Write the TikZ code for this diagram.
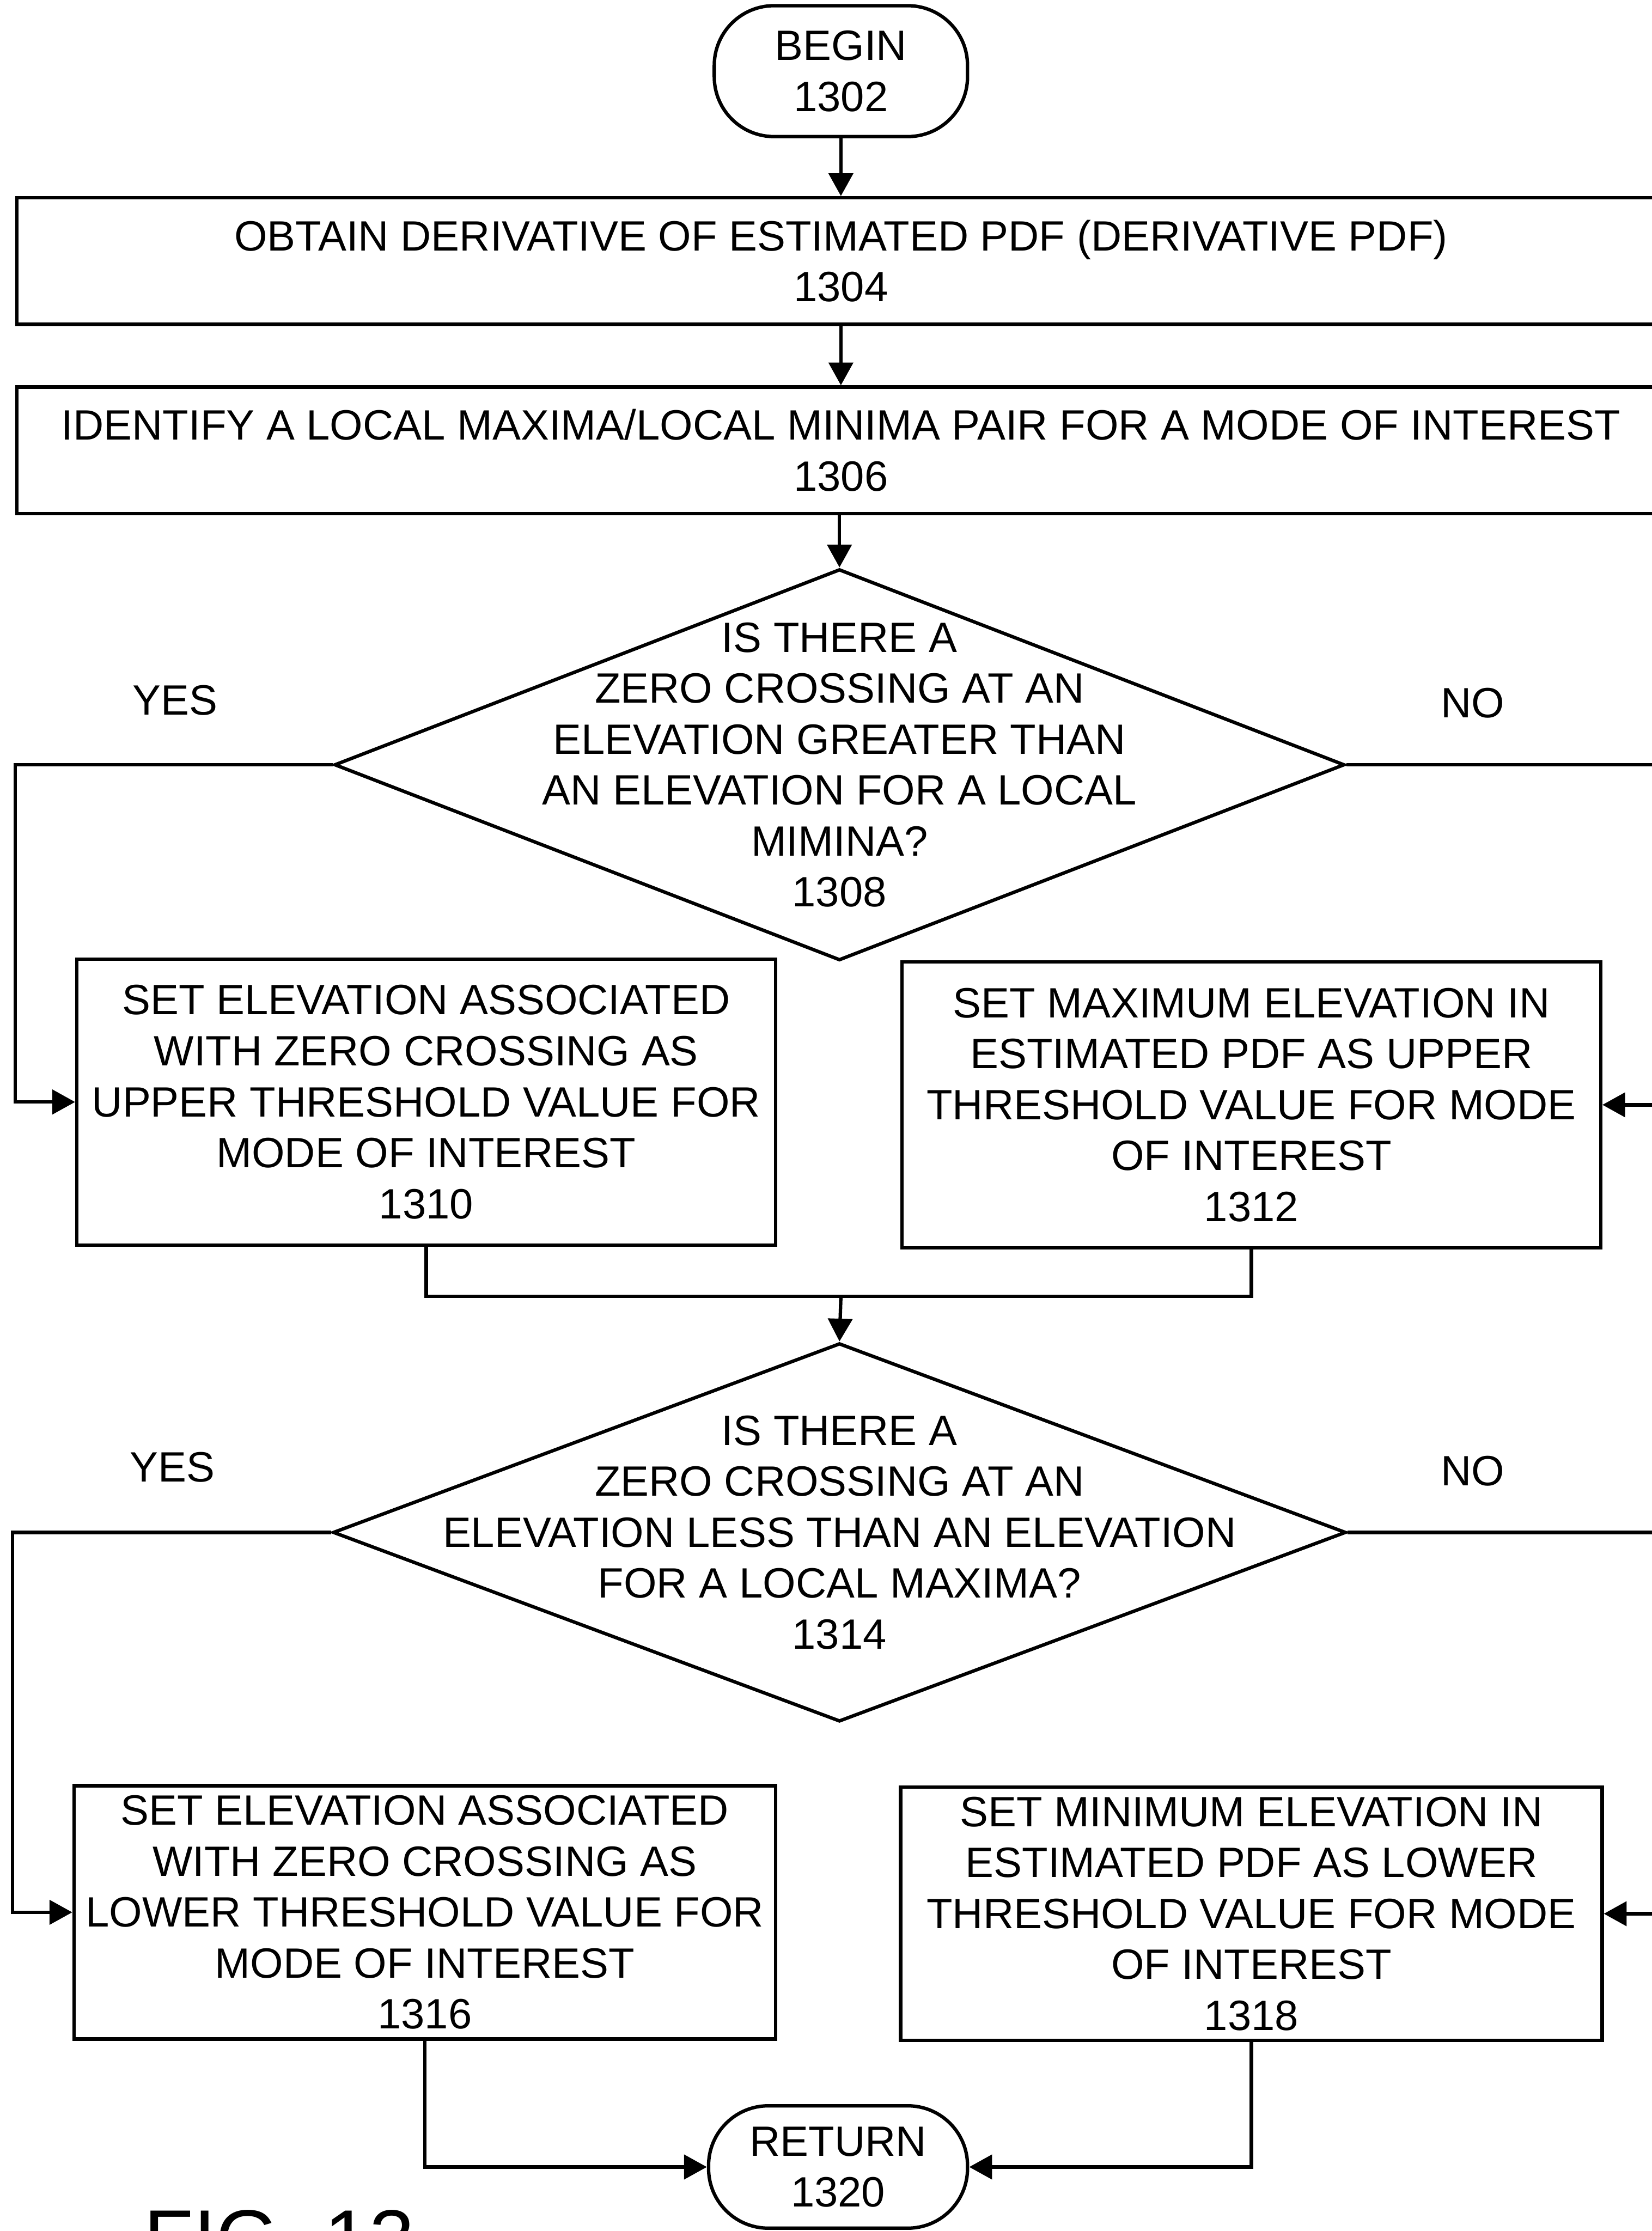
\documentclass[tikz,border=0pt]{standalone}
\usepackage{fontspec}
\setmainfont{Liberation Sans}
\usetikzlibrary{arrows.meta,shapes.geometric}

\begin{document}
\begin{tikzpicture}[x=1pt,y=-1pt,
  every node/.style={font=\fontsize{29.8}{35.8}\selectfont, inner sep=0pt, align=center},
  line/.style={line width=2.4pt},
  flow/.style={line width=2.4pt, -{Triangle[length=16pt,width=17pt]}},
  stepbox/.style={draw, line width=2.4pt, rectangle},
  terminal/.style={draw, line width=2.4pt, rectangle, rounded corners=42pt},
  decision/.style={draw, line width=2.4pt, diamond},
  answer/.style={}
]
\useasboundingbox (0,0) rectangle (1161,1568);
\fill[white] (0,0) rectangle (1161,1568);
\clip (0,0) rectangle (1161,1568);

% terminals
\node[terminal, minimum width=178pt, minimum height=92pt] (begin) at (591,50) {BEGIN\\1302};
\node[terminal, minimum width=182pt, minimum height=86pt] (ret) at (589,1523) {RETURN\\1320};

% full-width steps
\node[stepbox, minimum width=1158pt, minimum height=89pt] (b1304) at (591,183.5)
  {OBTAIN DERIVATIVE OF ESTIMATED PDF (DERIVATIVE PDF)\\1304};
\node[stepbox, minimum width=1158pt, minimum height=89pt] (b1306) at (591,316.5)
  {IDENTIFY A LOCAL MAXIMA/LOCAL MINIMA PAIR FOR A MODE OF INTEREST\\1306};

% first decision
\node[decision, minimum width=710pt, minimum height=275pt] (d1308) at (590,537.5) {};
\node (t1308) at (d1308.center) {IS THERE A\\ZERO CROSSING AT AN\\ELEVATION GREATER THAN\\AN ELEVATION FOR A LOCAL\\MIMINA?\\1308};
\node[answer] (yes1) at (123,492) {YES};
\node[answer] (no1) at (1035,494) {NO};

% upper threshold steps
\node[stepbox, minimum width=491pt, minimum height=201pt] (b1310) at (299.5,774.5)
  {SET ELEVATION ASSOCIATED\\WITH ZERO CROSSING AS\\UPPER THRESHOLD VALUE FOR\\MODE OF INTEREST\\1310};
\node[stepbox, minimum width=491pt, minimum height=201pt] (b1312) at (879.5,776.5)
  {SET MAXIMUM ELEVATION IN\\ESTIMATED PDF AS UPPER\\THRESHOLD VALUE FOR MODE\\OF INTEREST\\1312};

% second decision
\node[decision, minimum width=712pt, minimum height=266pt] (d1314) at (590,1077) {};
\node (t1314) at (d1314.center) {IS THERE A\\ZERO CROSSING AT AN\\ELEVATION LESS THAN AN ELEVATION\\FOR A LOCAL MAXIMA?\\1314};
\node[answer] (yes2) at (121,1031) {YES};
\node[answer] (no2) at (1035,1034) {NO};

% lower threshold steps
\node[stepbox, minimum width=493pt, minimum height=178pt] (b1316) at (298.5,1344)
  {SET ELEVATION ASSOCIATED\\WITH ZERO CROSSING AS\\LOWER THRESHOLD VALUE FOR\\MODE OF INTEREST\\1316};
\node[stepbox, minimum width=493pt, minimum height=178pt] (b1318) at (879.5,1345)
  {SET MINIMUM ELEVATION IN\\ESTIMATED PDF AS LOWER\\THRESHOLD VALUE FOR MODE\\OF INTEREST\\1318};

% figure caption
\node[font=\fontsize{57}{60}\selectfont, anchor=base west] (fig) at (101,1593) {FIG. 13};

% connectors
\draw[flow] (begin.south) -- (begin.south |- b1304.north);
\draw[flow] (begin.south |- b1304.south) -- (begin.south |- b1306.north);
\draw[flow] (d1308.north |- b1306.south) -- (d1308.north);

\draw[flow] (d1308.west) -| ([xshift=-42pt]b1310.west) -- (b1310.west);
\draw[flow] (d1308.east) -| ([xshift=40pt]b1312.east) -- (b1312.east);

\coordinate (m1) at (591,911);
\draw[line] (b1310.south) |- (m1) -| (b1312.south);
\draw[flow] (m1) -- (d1314.north);

\draw[flow] (d1314.west) -| ([xshift=-42pt]b1316.west) -- (b1316.west);
\draw[flow] (d1314.east) -| ([xshift=40pt]b1318.east) -- (b1318.east);

\draw[flow] (b1316.south) |- (ret.west);
\draw[flow] (b1318.south) |- (ret.east);
\end{tikzpicture}
\end{document}
